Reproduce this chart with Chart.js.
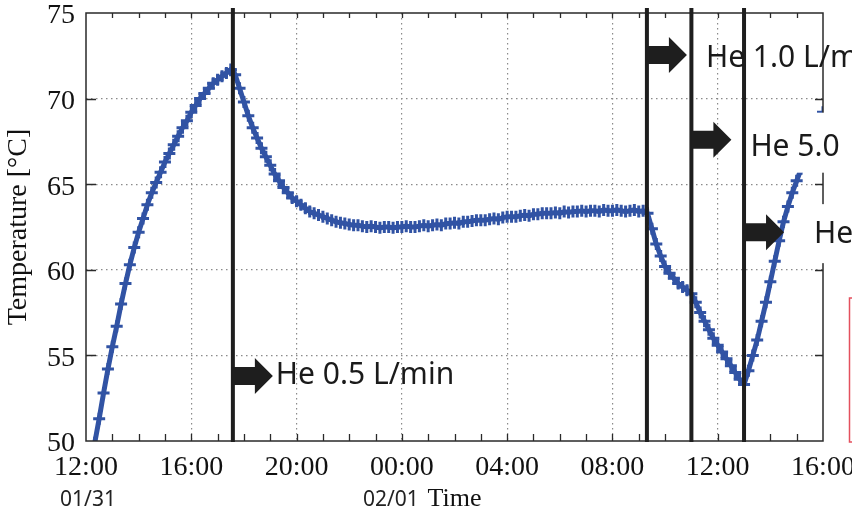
<!DOCTYPE html>
<html>
<head>
<meta charset="utf-8">
<script src="https://cdn.jsdelivr.net/npm/chart.js@4"></script>
<style>
  html, body { margin: 0; padding: 0; background: #fff; }
</style>
</head>
<body>
<canvas id="chart" width="852" height="511"></canvas>
<script>
// temperature log, one reading every 10 min starting 12:20 on 01/31
const sampleStart = 20 / 60;   // hours after 12:00
const sampleStep = 10 / 60;
const temperature = [
  49.9, 51.3, 52.8, 54.2, 55.5, 56.7, 58.0, 59.2, 60.3, 61.3,
  62.2, 63.0, 63.8, 64.5, 65.1, 65.7, 66.3, 66.8, 67.3, 67.8,
  68.3, 68.7, 69.2, 69.6, 70.0, 70.3, 70.6, 70.9, 71.1, 71.3,
  71.5, 71.7, 71.4, 70.6, 69.8, 69.0, 68.3, 67.7, 67.1, 66.6,
  66.1, 65.6, 65.2, 64.8, 64.5, 64.2, 64.0, 63.8, 63.6, 63.4,
  63.3, 63.2, 63.1, 63.0, 62.9, 62.8, 62.75, 62.7, 62.65, 62.6,
  62.6, 62.55, 62.5, 62.55, 62.5, 62.45, 62.5, 62.5, 62.45, 62.5,
  62.5, 62.55, 62.5, 62.5, 62.55, 62.6, 62.55, 62.6, 62.65, 62.6,
  62.7, 62.7, 62.75, 62.7, 62.8, 62.8, 62.85, 62.9, 62.9, 62.9,
  62.95, 63.0, 62.95, 63.05, 63.1, 63.1, 63.1, 63.15, 63.2, 63.15,
  63.25, 63.25, 63.3, 63.3, 63.3, 63.35, 63.3, 63.4, 63.35, 63.4,
  63.4, 63.45, 63.4, 63.45, 63.45, 63.4, 63.5, 63.45, 63.45, 63.5,
  63.45, 63.4, 63.45, 63.5, 63.4, 63.45, 63.3, 62.4, 61.5, 60.8,
  60.2, 59.8, 59.5, 59.2, 59.0, 58.8, 58.6, 58.1, 57.5, 57.0,
  56.5, 56.0, 55.6, 55.2, 54.8, 54.4, 54.0, 53.6, 53.3, 54.1,
  55.0, 55.9, 57.0, 58.1, 59.3, 60.5, 61.7, 62.8, 63.7, 64.5,
  65.2, 65.9, 66.6, 67.3, 67.9, 68.6, 69.2
];

const tickLabels = ['12:00', '16:00', '20:00', '00:00', '04:00', '08:00', '12:00', '16:00'];
const dateHours = [0, 12];
const dateTexts = ['01/31', '02/01'];

// helium flow changes: time (hours after 12:00 01/31) and arrow level (°C)
const eventHours = [5.58, 21.31, 23.0, 25.0];
const eventLevels = [53.8, 72.55, 67.6, 62.2];
const eventTexts = ['He 0.5 L/min', 'He 1.0 L/min', 'He 5.0', 'He'];

const blue = '#3153a4';
const serif = '"Liberation Serif", "Times New Roman", serif';
const sans = '"Noto Sans", "Open Sans", sans-serif';

// label placement next to each arrow (gap from tip, baseline shift) and white text boxes
const labelGap = [3, 19, 19, 30];
const labelBaseline = [8, 12, 16, 11];
const labelBoxes = [null, null, { l: -3, t: -43, b: 17 }, { l: -8, t: -39, b: 20 }];

function drawArrow(ctx, x0, yc) {
  ctx.beginPath();
  ctx.moveTo(x0, yc - 9);
  ctx.lineTo(x0 + 22, yc - 9);
  ctx.lineTo(x0 + 22, yc - 18);
  ctx.lineTo(x0 + 40, yc);
  ctx.lineTo(x0 + 22, yc + 18);
  ctx.lineTo(x0 + 22, yc + 9);
  ctx.lineTo(x0, yc + 9);
  ctx.closePath();
  ctx.fill();
}

const overlay = {
  id: 'overlay',
  afterDatasetsDraw(chart) {
    const { ctx, chartArea: a, scales: { x, y } } = chart;
    ctx.save();

    // frame
    ctx.strokeStyle = '#2a2a2a';
    ctx.lineWidth = 1.5;
    ctx.strokeRect(a.left, a.top, a.right - a.left, a.bottom - a.top);

    // inward ticks
    ctx.beginPath();
    x.ticks.forEach(t => {
      if (t.value <= 0 || t.value >= 28) return;
      const px = Math.round(x.getPixelForValue(t.value)) + 0.5;
      ctx.moveTo(px, a.bottom); ctx.lineTo(px, a.bottom - 7);
      ctx.moveTo(px, a.top); ctx.lineTo(px, a.top + 5);
    });
    y.ticks.forEach(t => {
      if (t.value <= 50 || t.value >= 75) return;
      const py = Math.round(y.getPixelForValue(t.value)) + 0.5;
      ctx.moveTo(a.left, py); ctx.lineTo(a.left + 10, py);
      ctx.moveTo(a.right, py); ctx.lineTo(a.right - 8, py);
    });
    ctx.lineWidth = 1.3;
    ctx.stroke();

    // date labels under the axis
    ctx.fillStyle = '#222';
    ctx.font = '21px ' + sans;
    ctx.textAlign = 'center';
    ctx.textBaseline = 'alphabetic';
    const dateShift = [2, -11];
    dateHours.forEach((h, i) => {
      ctx.fillText(dateTexts[i], x.getPixelForValue(h) + dateShift[i], 506);
    });

    // flow change lines
    ctx.fillStyle = '#1e1e1e';
    eventHours.forEach(h => {
      const px = x.getPixelForValue(h);
      ctx.fillRect(px - 2, a.top - 5, 4, a.bottom - a.top + 6);
    });

    // arrows and labels
    ctx.font = '30px ' + sans;
    ctx.textAlign = 'left';
    eventHours.forEach((h, i) => {
      const px = x.getPixelForValue(h);
      const py = y.getPixelForValue(eventLevels[i]);
      const tx = px + 40 + labelGap[i];
      const ty = py + labelBaseline[i];
      const box = labelBoxes[i];
      if (box) {
        ctx.fillStyle = '#fff';
        ctx.fillRect(tx + box.l, ty + box.t, chart.width - (tx + box.l), box.b - box.t);
      }
      ctx.fillStyle = '#1e1e1e';
      drawArrow(ctx, px, py);
      ctx.fillStyle = '#1a1a1a';
      ctx.fillText(eventTexts[i], tx, ty);
    });

    // edge of a neighbouring red box
    ctx.strokeStyle = '#e4505e';
    ctx.lineWidth = 1.5;
    ctx.strokeRect(849.5, 298, 30, 144);

    ctx.restore();
  }
};

new Chart(document.getElementById('chart'), {
  type: 'line',
  data: {
    datasets: [{
      data: temperature.map((v, i) => ({ x: sampleStart + i * sampleStep, y: v })),
      borderColor: blue,
      borderWidth: 5,
      pointStyle: 'cross',
      pointRadius: 6,
      pointBorderWidth: 3,
      pointBorderColor: blue,
      pointBackgroundColor: blue,
      tension: 0
    }]
  },
  options: {
    responsive: false,
    animation: false,
    layout: { padding: { top: 13, right: 29, left: 0, bottom: 0 } },
    plugins: { legend: { display: false }, tooltip: { enabled: false } },
    scales: {
      x: {
        type: 'linear',
        min: 0,
        max: 28,
        ticks: {
          stepSize: 1,
          autoSkip: false,
          maxRotation: 0,
          padding: 10,
          color: '#111',
          font: { family: serif, size: 28 },
          callback: v => (v % 4 === 0 ? tickLabels[v / 4] : '')
        },
        grid: {
          drawTicks: false,
          lineWidth: 1.2,
          color: c => (c.tick && c.tick.value % 4 === 0 && c.tick.value > 0 && c.tick.value < 28) ? '#8a8a8a' : 'rgba(0,0,0,0)'
        },
        border: { display: false, dash: [1.5, 3.5] },
        title: {
          display: true,
          text: 'Time',
          color: '#111',
          font: { family: serif, size: 26 },
          padding: { top: 0, bottom: -4 }
        },
        afterFit: s => { s.height = 70; s.paddingLeft = 0; s.paddingRight = 0; }
      },
      y: {
        min: 50,
        max: 75,
        ticks: {
          stepSize: 5,
          padding: 11,
          labelOffset: 3,
          color: '#111',
          font: { family: serif, size: 28 }
        },
        grid: {
          drawTicks: false,
          lineWidth: 1.2,
          color: c => (c.tick && c.tick.value > 50 && c.tick.value < 75) ? '#8a8a8a' : 'rgba(0,0,0,0)'
        },
        border: { display: false, dash: [1.5, 3.5] },
        title: {
          display: true,
          text: 'Temperature [°C]',
          color: '#111',
          font: { family: serif, size: 28 },
          padding: { top: 2, bottom: 0 }
        },
        afterFit: s => { s.width = 86; s.paddingTop = 0; s.paddingBottom = 0; }
      }
    }
  },
  plugins: [overlay]
});
</script>
</body>
</html>
